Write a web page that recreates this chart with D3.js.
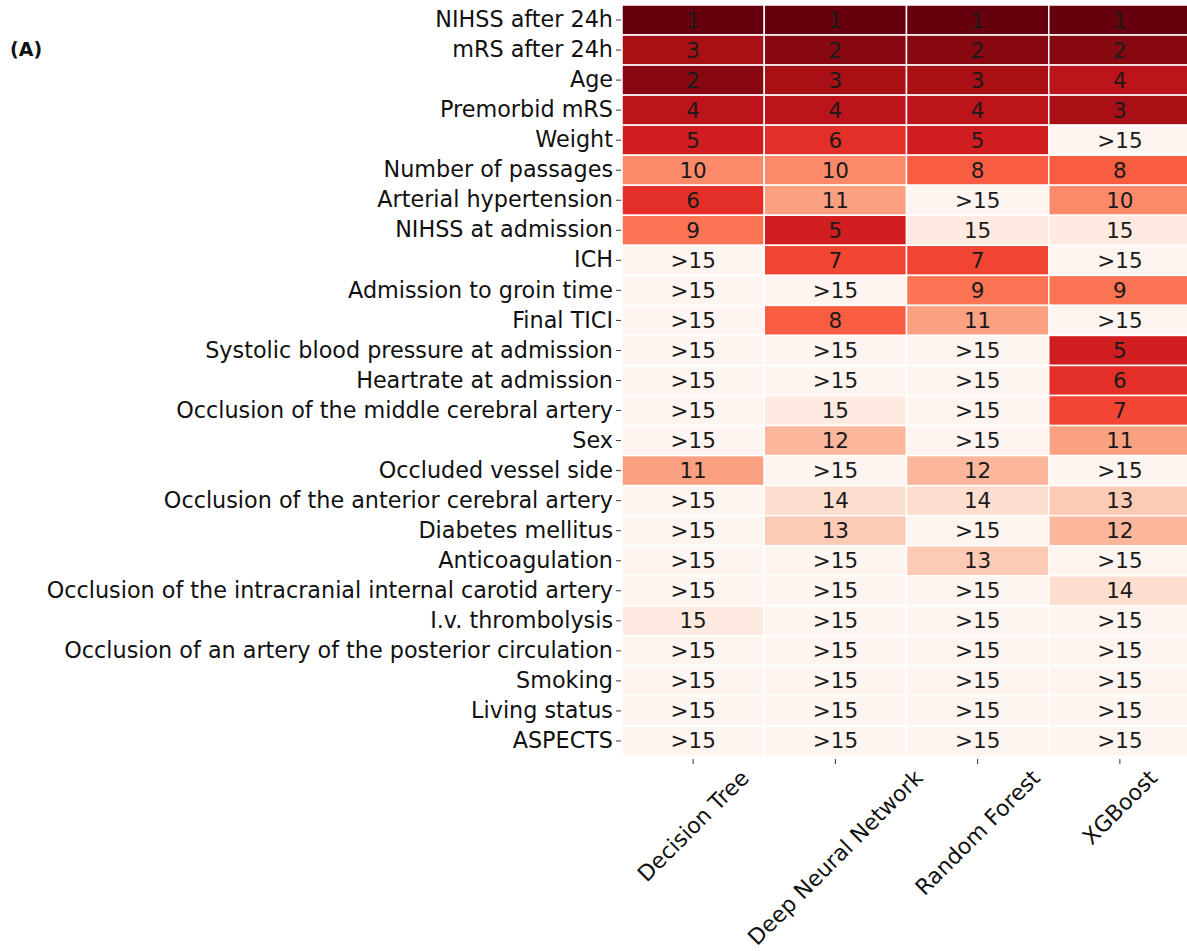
<!DOCTYPE html>
<html>
<head>
<meta charset="utf-8">
<script src="https://cdn.jsdelivr.net/npm/d3@7"></script>
<style>
  html, body { margin: 0; padding: 0; background: #fff; }
  svg { display: block; }
  text { font-family: "DejaVu Sans", sans-serif; }
</style>
</head>
<body>
<svg id="chart" width="1187" height="951"></svg>
<script>
// Feature importance rank per model (1 = most important). Ranks beyond 15 are stored as 16 and shown as ">15".
const features = [
  "NIHSS after 24h", "mRS after 24h", "Age", "Premorbid mRS", "Weight",
  "Number of passages", "Arterial hypertension", "NIHSS at admission", "ICH",
  "Admission to groin time", "Final TICI", "Systolic blood pressure at admission",
  "Heartrate at admission", "Occlusion of the middle cerebral artery", "Sex",
  "Occluded vessel side", "Occlusion of the anterior cerebral artery",
  "Diabetes mellitus", "Anticoagulation",
  "Occlusion of the intracranial internal carotid artery", "I.v. thrombolysis",
  "Occlusion of an artery of the posterior circulation", "Smoking",
  "Living status", "ASPECTS"
];
const models = ["Decision Tree", "Deep Neural Network", "Random Forest", "XGBoost"];

const decisionTree      = [1, 3, 2, 4, 5, 10, 6, 9, 16, 16, 16, 16, 16, 16, 16, 11, 16, 16, 16, 16, 15, 16, 16, 16, 16];
const deepNeuralNetwork = [1, 2, 3, 4, 6, 10, 11, 5, 7, 16, 8, 16, 16, 15, 12, 16, 14, 13, 16, 16, 16, 16, 16, 16, 16];
const randomForest      = [1, 2, 3, 4, 5, 8, 16, 15, 7, 9, 11, 16, 16, 16, 16, 12, 14, 16, 13, 16, 16, 16, 16, 16, 16];
const xgBoost           = [1, 2, 4, 3, 16, 8, 10, 15, 16, 9, 16, 5, 6, 7, 11, 16, 13, 12, 16, 14, 16, 16, 16, 16, 16];

const rankSeries = [decisionTree, deepNeuralNetwork, randomForest, xgBoost];
const MAX_RANK = 15;
const rankLabel = r => (r > MAX_RANK ? ">" + MAX_RANK : String(r));

// matplotlib "Reds" colour stops, lightest to darkest
const redsStops = ["#fff5f0", "#fee0d2", "#fcbba1", "#fc9272", "#fb6a4a",
                   "#ef3b2c", "#cb181d", "#a50f15", "#67000d"];

const cells = [];
features.forEach((f, i) => {
  models.forEach((m, j) => {
    cells.push({ feature: f, model: m, rank: rankSeries[j][i] });
  });
});

const svg = d3.select("#chart");
const margin = { left: 622, right: -4, top: 5, bottom: 195 };
const W = +svg.attr("width"), H = +svg.attr("height");

const x = d3.scaleBand().domain(models).range([margin.left, W - margin.right]);
const y = d3.scaleBand().domain(features).range([margin.top, H - margin.bottom]);

const t = d3.scaleLinear().domain([MAX_RANK + 1, 1]).range([0, 1]);
const colorAt = d3.scaleLinear()
  .domain(redsStops.map((_, k) => k / (redsStops.length - 1)))
  .range(redsStops)
  .interpolate(d3.interpolateRgb);
const color = r => colorAt(t(r));

const labelSize = 22.3;
const modelSize = 22;
const cellSize = 21.5;

// heatmap cells
svg.append("g")
  .selectAll("rect")
  .data(cells)
  .join("rect")
  .attr("x", d => x(d.model))
  .attr("y", d => y(d.feature))
  .attr("width", x.bandwidth())
  .attr("height", y.bandwidth())
  .attr("fill", d => color(d.rank))
  .attr("stroke", "#ffffff")
  .attr("stroke-width", 1.5);

// rank annotations
svg.append("g")
  .selectAll("text")
  .data(cells)
  .join("text")
  .attr("x", d => x(d.model) + x.bandwidth() / 2)
  .attr("y", d => y(d.feature) + y.bandwidth() / 2)
  .attr("text-anchor", "middle")
  .attr("dominant-baseline", "central")
  .attr("font-size", cellSize)
  .attr("fill", "#1a1a1a")
  .text(d => rankLabel(d.rank));

// y axis: feature names
const yAxis = d3.axisLeft(y).tickSize(5).tickPadding(3);
const gy = svg.append("g").attr("transform", `translate(${margin.left - 1},0)`).call(yAxis);
gy.select(".domain").remove();
gy.selectAll(".tick line").attr("stroke", "#333").attr("stroke-width", 1);
gy.selectAll(".tick text")
  .attr("font-size", labelSize)
  .attr("font-family", "DejaVu Sans, sans-serif")
  .attr("fill", "#111");

// x axis: model names, rotated 45 degrees with the rotated box centred on each tick
const xAxis = d3.axisBottom(x).tickSize(5).tickFormat("");
const yBottom = H - margin.bottom;
const gx = svg.append("g").attr("transform", `translate(0,${yBottom + 3})`).call(xAxis);
gx.select(".domain").remove();
gx.selectAll(".tick line").attr("stroke", "#333").attr("stroke-width", 1);

const labelTop = yBottom + 11;
const s45 = Math.SQRT1_2;
const xl = svg.append("g");
models.forEach(m => {
  const txt = xl.append("text")
    .attr("font-size", modelSize)
    .attr("fill", "#111")
    .attr("text-anchor", "middle")
    .attr("dominant-baseline", "central")
    .text(m);
  const L = txt.node().getComputedTextLength();
  const h = modelSize * 0.9;
  const half = (L * s45 + h * s45) / 2;
  const cx = x(m) + x.bandwidth() / 2;
  const cy = labelTop + half;
  txt.attr("transform", `translate(${cx},${cy}) rotate(-45)`);
});

// panel letter
svg.append("text")
  .attr("x", 10)
  .attr("y", 56)
  .attr("font-size", 19)
  .attr("font-weight", "bold")
  .attr("fill", "#111")
  .text("(A)");
</script>
</body>
</html>
